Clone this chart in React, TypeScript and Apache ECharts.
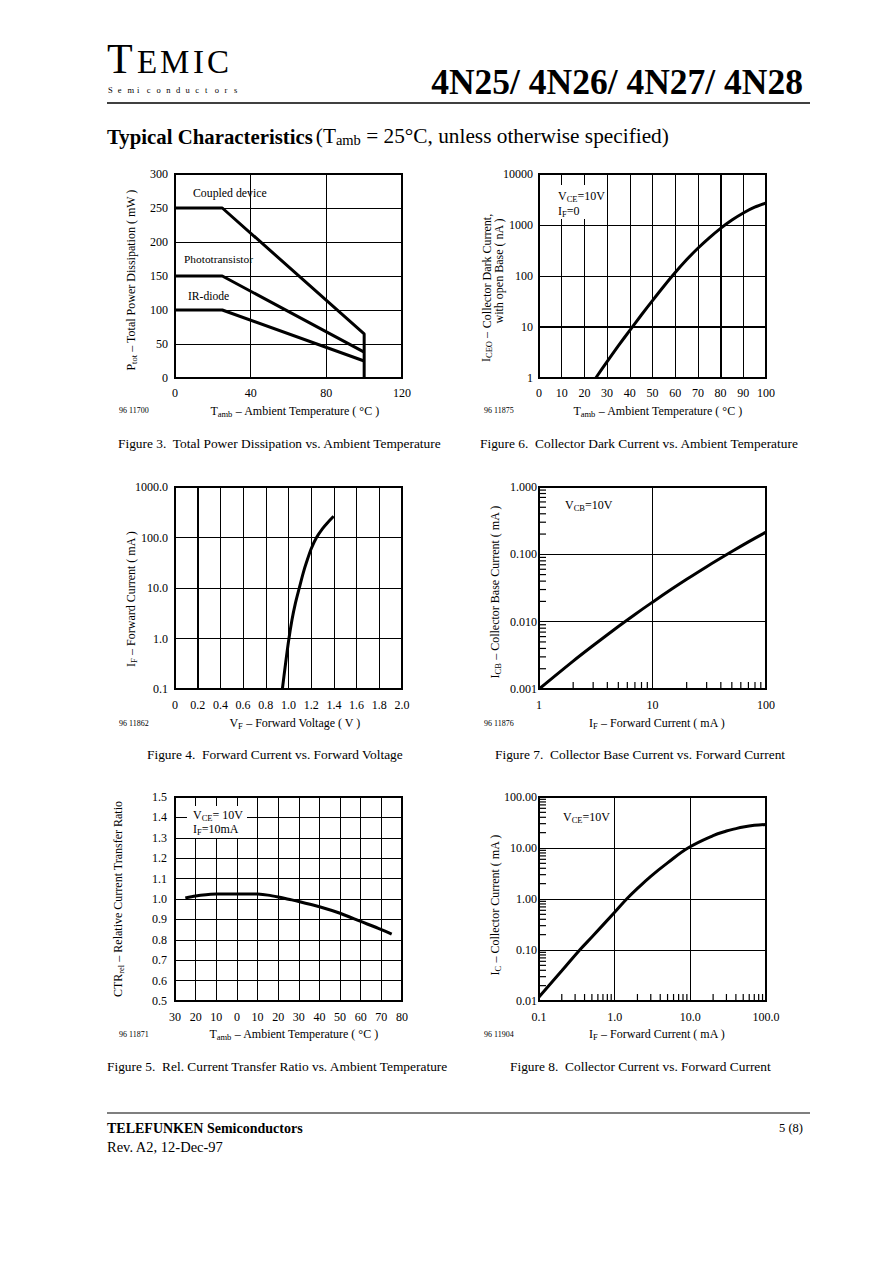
import React, { useEffect, useRef } from "react";
import * as echarts from "echarts";

const FONT = "Liberation Serif";

// Figure 3 – total power dissipation vs ambient temperature
const fig3CoupledT = [0, 25, 100, 100];
const fig3CoupledP = [250, 250, 65, 0];
const fig3PhotoT = [0, 25, 100];
const fig3PhotoP = [150, 150, 38];
const fig3DiodeT = [0, 25, 100];
const fig3DiodeP = [100, 100, 25];

// Figure 6 – collector dark current vs ambient temperature
const fig6T = [25, 30, 35, 40, 45, 50, 55, 60, 65, 70, 75, 80, 85, 90, 95, 100];
const fig6I = [1, 2.1, 4.3, 8.6, 17, 33, 63, 117, 208, 350, 560, 860, 1250, 1720, 2230, 2700];

// Figure 4 – forward current vs forward voltage
const fig4V = [0.946, 0.97, 1.0, 1.03, 1.06, 1.095, 1.13, 1.16, 1.2, 1.247, 1.3, 1.35, 1.398];
const fig4I = [0.1, 0.27, 0.875, 2.3, 4.9, 10, 20, 33, 60, 100, 150, 203, 263];

// Figure 7 – collector base current vs forward current
const fig7IF = [1, 2, 3, 5, 7, 10, 15, 20, 30, 50, 70, 100];
const fig7ICB = [0.001, 0.0026, 0.00443, 0.00847, 0.0128, 0.0195, 0.031, 0.0426, 0.0656, 0.11, 0.153, 0.214];
const fig7MinorX = [2, 3, 4, 5, 6, 7, 8, 9, 20, 30, 40, 50, 60, 70, 80, 90];
const fig7MinorY = [0.002, 0.003, 0.004, 0.005, 0.006, 0.007, 0.008, 0.009, 0.02, 0.03, 0.04, 0.05, 0.06, 0.07, 0.08, 0.09, 0.2, 0.3, 0.4, 0.5, 0.6, 0.7, 0.8, 0.9];

// Figure 5 – relative CTR vs ambient temperature
const fig5T = [-25, -20, -15, -10, -5, 0, 5, 10, 15, 20, 25, 30, 40, 50, 60, 70, 75];
const fig5CTR = [1.005, 1.015, 1.021, 1.024, 1.025, 1.025, 1.025, 1.024, 1.019, 1.01, 0.999, 0.988, 0.962, 0.93, 0.89, 0.85, 0.828];

// Figure 8 – collector current vs forward current
const fig8IF = [0.1, 0.2, 0.345, 0.5, 1, 1.44, 2, 3, 5, 9.3, 20, 30, 40, 50, 70, 100];
const fig8IC = [0.012, 0.039, 0.1, 0.18, 0.55, 1.0, 1.61, 2.78, 5.1, 10, 17.5, 21.5, 24, 25.8, 27.8, 29];
const fig8MinorX = [0.2, 0.3, 0.4, 0.5, 0.6, 0.7, 0.8, 0.9, 2, 3, 4, 5, 6, 7, 8, 9, 20, 30, 40, 50, 60, 70, 80, 90];
const fig8MinorY = [0.02, 0.03, 0.04, 0.05, 0.06, 0.07, 0.08, 0.09, 0.2, 0.3, 0.4, 0.5, 0.6, 0.7, 0.8, 0.9, 2, 3, 4, 5, 6, 7, 8, 9, 20, 30, 40, 50, 60, 70, 80, 90];

const zip = (a: number[], b: number[]) => a.map((v, i) => [v, b[i]]);

const RICH = {
  n: { fontSize: 12, fontFamily: FONT, fill: "#000" },
  s: { fontSize: 8.5, fontFamily: FONT, fill: "#000", padding: [6, 0, 0, 0] },
  b: { fontSize: 20.8, fontFamily: FONT, fontWeight: "bold", fill: "#000" },
  t: { fontSize: 21.3, fontFamily: FONT, fill: "#000" },
  ts: { fontSize: 14.5, fontFamily: FONT, fill: "#000", padding: [8, 0, 0, 0] },
};

function txt(x: number, y: number, text: string, o: any = {}) {
  return {
    type: "text",
    x,
    y,
    z: 20,
    rotation: o.rot ?? 0,
    style: {
      text,
      fontFamily: FONT,
      fontSize: o.size ?? 12,
      fontWeight: o.weight ?? "normal",
      fill: "#000",
      align: o.align ?? "left",
      verticalAlign: "middle",
      lineHeight: o.lh,
      rich: RICH,
    },
  };
}

function hline(x1: number, x2: number, y: number, w = 1.2) {
  return { type: "line", z: 20, shape: { x1, y1: y, x2, y2: y }, style: { stroke: "#000", lineWidth: w } };
}

function box(x: number, y: number, width: number, height: number) {
  return { type: "rect", z: 15, shape: { x, y, width, height }, style: { fill: "#fff" } };
}

const SPLIT = { show: true, lineStyle: { color: "#000", width: 1 } };

function axis(gridIndex: number, o: any) {
  const { labelMargin, fmt, ...rest } = o;
  return {
    gridIndex,
    axisLine: { show: false },
    axisTick: { show: false },
    minorTick: { show: false },
    splitLine: SPLIT,
    axisLabel: {
      color: "#000",
      fontFamily: FONT,
      fontSize: 12,
      margin: labelMargin ?? 8,
      formatter: fmt,
    },
    ...rest,
  };
}

const LINE = { color: "#000", width: 3 };

function curve(xi: number, data: number[][], extra: any = {}) {
  return {
    type: "line",
    xAxisIndex: xi,
    yAxisIndex: xi,
    data,
    symbol: "none",
    lineStyle: LINE,
    itemStyle: { color: "#000" },
    clip: false,
    ...extra,
  };
}

function thick(marks: any[]) {
  return {
    silent: true,
    symbol: "none",
    label: { show: false },
    lineStyle: { color: "#000", width: 2, type: "solid" },
    data: marks,
  };
}

// minor ticks drawn inside the frame: [x, y, dir] where dir 0 = on y axis, 1 = on x axis
function minorTicks(xi: number, data: number[][]) {
  return {
    type: "custom",
    xAxisIndex: xi,
    yAxisIndex: xi,
    data,
    silent: true,
    z: 5,
    encode: { x: 0, y: 1 },
    renderItem: (_p: any, api: any) => {
      const pt = api.coord([api.value(0), api.value(1)]);
      const dir = api.value(2);
      const shape =
        dir === 1
          ? { x1: pt[0], y1: pt[1], x2: pt[0], y2: pt[1] - 7 }
          : { x1: pt[0], y1: pt[1], x2: pt[0] + 7, y2: pt[1] };
      return { type: "line", shape, style: { stroke: "#000", lineWidth: 1.2 } };
    },
  };
}

const semi = "Semiconductors".split("");

export default function App() {
  const ref = useRef<HTMLDivElement>(null);
  useEffect(() => {
    if (!ref.current) return;
    const chart = echarts.init(ref.current, undefined, { renderer: "svg" });

    const grids = [
      { left: 175, top: 174, width: 227, height: 204 },
      { left: 539, top: 174, width: 227, height: 204 },
      { left: 175, top: 487, width: 227, height: 202 },
      { left: 539, top: 487, width: 227, height: 202 },
      { left: 175, top: 797, width: 227, height: 204 },
      { left: 539, top: 797, width: 227, height: 204 },
    ].map((g) => ({
      ...g,
      show: true,
      borderColor: "#000",
      borderWidth: 2,
      backgroundColor: "transparent",
      containLabel: false,
      outerBoundsMode: "none",
    }));

    const xAxis = [
      axis(0, { type: "value", min: 0, max: 120, interval: 40, labelMargin: 9 }),
      axis(1, { type: "value", min: 0, max: 100, interval: 10, labelMargin: 9 }),
      axis(2, {
        type: "value", min: 0, max: 2, interval: 0.2, labelMargin: 10,
        fmt: (v: number) => (v === 0 ? "0" : v.toFixed(1)),
      }),
      axis(3, { type: "log", logBase: 10, min: 1, max: 100, labelMargin: 10, fmt: (v: number) => String(Math.round(v)) }),
      axis(4, {
        type: "value", min: -30, max: 80, interval: 10, labelMargin: 10,
        fmt: (v: number) => String(Math.abs(Math.round(v))),
      }),
      axis(5, { type: "log", logBase: 10, min: 0.1, max: 100, labelMargin: 10, fmt: (v: number) => v.toFixed(1) }),
    ];

    const yAxis = [
      axis(0, { type: "value", min: 0, max: 300, interval: 50, labelMargin: 7 }),
      axis(1, { type: "log", logBase: 10, min: 1, max: 10000, labelMargin: 6, fmt: (v: number) => String(Math.round(v)) }),
      axis(2, { type: "log", logBase: 10, min: 0.1, max: 1000, labelMargin: 7, fmt: (v: number) => v.toFixed(1) }),
      axis(3, { type: "log", logBase: 10, min: 0.001, max: 1, labelMargin: 2, fmt: (v: number) => v.toFixed(3) }),
      axis(4, { type: "value", min: 0.5, max: 1.5, interval: 0.1, labelMargin: 8, fmt: (v: number) => v.toFixed(1) }),
      axis(5, { type: "log", logBase: 10, min: 0.01, max: 100, labelMargin: 2, fmt: (v: number) => v.toFixed(2) }),
    ];

    const series = [
      curve(0, zip(fig3CoupledT, fig3CoupledP)),
      curve(0, zip(fig3PhotoT, fig3PhotoP)),
      curve(0, zip(fig3DiodeT, fig3DiodeP)),
      curve(1, zip(fig6T, fig6I), {
        smooth: 0.3,
        markLine: thick([{ yAxis: 10 }, { xAxis: 80 }]),
      }),
      curve(2, zip(fig4V, fig4I), {
        smooth: 0.3,
        markLine: thick([{ xAxis: 0.2 }]),
      }),
      curve(3, zip(fig7IF, fig7ICB), { smooth: 0.3 }),
      minorTicks(3, [
        ...fig7MinorY.map((v) => [1, v, 0]),
        ...fig7MinorX.map((v) => [v, 0.001, 1]),
      ]),
      curve(4, zip(fig5T, fig5CTR), { smooth: 0.3 }),
      curve(5, zip(fig8IF, fig8IC), { smooth: 0.4 }),
      minorTicks(5, [
        ...fig8MinorY.map((v) => [0.1, v, 0]),
        ...fig8MinorX.map((v) => [v, 0.01, 1]),
      ]),
    ];

    const R = Math.PI / 2;
    const graphic: any[] = [
      // header
      txt(107, 59, "T", { size: 42 }),
      txt(137, 62, "E", { size: 33 }),
      txt(160, 62, "M", { size: 33 }),
      txt(193, 62, "I", { size: 33 }),
      txt(207, 62, "C", { size: 33 }),
      ...semi.map((c, i) => txt(108 + i * 9.7, 90, c, { size: 8.5 })),
      txt(803, 82, "4N25/ 4N26/ 4N27/ 4N28", { size: 35.5, weight: "bold", align: "right" }),
      hline(107, 810, 103, 1.3),
      txt(107, 136, "{b|Typical Characteristics} {t|(T}{ts|amb}{t| = 25°C, unless otherwise specified)}"),

      // Figure 3
      txt(193, 193, "Coupled device", { size: 11.8 }),
      txt(184, 259, "Phototransistor", { size: 11.4 }),
      txt(188, 296, "IR-diode", { size: 11.6 }),
      txt(131, 280, "{n|P}{s|tot}{n| – Total Power Dissipation ( mW )}", { rot: R, align: "center" }),
      txt(295, 411, "{n|T}{s|amb}{n| – Ambient Temperature ( °C )}", { align: "center" }),
      txt(119, 410, "96 11700", { size: 8 }),
      txt(118, 443, "Figure 3.  Total Power Dissipation vs. Ambient Temperature", { size: 13.4 }),

      // Figure 6
      box(553, 185, 52, 34),
      txt(558, 196, "{n|V}{s|CE}{n|=10V}"),
      txt(558, 211, "{n|I}{s|F}{n|=0}"),
      txt(486, 347, "{n|I}{s|CEO}{n| –}", { rot: R, align: "center" }),
      txt(493, 271, "Collector Dark Current,\nwith open Base ( nA )", { rot: R, align: "center", lh: 12 }),
      txt(658, 411, "{n|T}{s|amb}{n| – Ambient Temperature ( °C )}", { align: "center" }),
      txt(484, 410, "96 11875", { size: 8 }),
      txt(480, 443, "Figure 6.  Collector Dark Current vs. Ambient Temperature", { size: 13.4 }),

      // Figure 4
      txt(131, 599, "{n|I}{s|F}{n| – Forward Current ( mA )}", { rot: R, align: "center" }),
      txt(295, 723, "{n|V}{s|F}{n| – Forward Voltage ( V )}", { align: "center" }),
      txt(119, 723, "96 11862", { size: 8 }),
      txt(147, 754, "Figure 4.  Forward Current vs. Forward Voltage", { size: 13.4 }),

      // Figure 7
      txt(565, 505, "{n|V}{s|CB}{n|=10V}"),
      txt(495, 592, "{n|I}{s|CB}{n| – Collector Base Current ( mA )}", { rot: R, align: "center" }),
      txt(657, 723, "{n|I}{s|F}{n| – Forward Current ( mA )}", { align: "center" }),
      txt(484, 723, "96 11876", { size: 8 }),
      txt(495, 754, "Figure 7.  Collector Base Current vs. Forward Current", { size: 13.4 }),

      // Figure 5
      box(187, 806, 60, 32),
      txt(193, 815, "{n|V}{s|CE}{n|= 10V}"),
      txt(193, 829, "{n|I}{s|F}{n|=10mA}"),
      txt(118, 899, "{n|CTR}{s|rel}{n| – Relative Current Transfer Ratio}", { rot: R, align: "center" }),
      txt(294, 1034, "{n|T}{s|amb}{n| – Ambient Temperature ( °C )}", { align: "center" }),
      txt(119, 1034, "96 11871", { size: 8 }),
      txt(107, 1066, "Figure 5.  Rel. Current Transfer Ratio vs. Ambient Temperature", { size: 13.4 }),

      // Figure 8
      txt(563, 817, "{n|V}{s|CE}{n|=10V}"),
      txt(495, 905, "{n|I}{s|C}{n| – Collector Current ( mA )}", { rot: R, align: "center" }),
      txt(657, 1034, "{n|I}{s|F}{n| – Forward Current ( mA )}", { align: "center" }),
      txt(484, 1034, "96 11904", { size: 8 }),
      txt(510, 1066, "Figure 8.  Collector Current vs. Forward Current", { size: 13.4 }),

      // footer
      hline(107, 810, 1113, 1.2),
      txt(107, 1128, "TELEFUNKEN Semiconductors", { size: 14, weight: "bold" }),
      txt(107, 1147, "Rev. A2, 12-Dec-97", { size: 14.5 }),
      txt(803, 1128, "5 (8)", { size: 12.5, align: "right" }),
    ];

    chart.setOption({
      animation: false,
      backgroundColor: "#fff",
      textStyle: { fontFamily: FONT, color: "#000" },
      grid: grids,
      xAxis,
      yAxis,
      series,
      graphic,
    });
    return () => chart.dispose();
  }, []);

  return (
    <div
      ref={ref}
      style={{ position: "absolute", left: 0, top: 0, width: 894, height: 1261, background: "#fff" }}
    />
  );
}
